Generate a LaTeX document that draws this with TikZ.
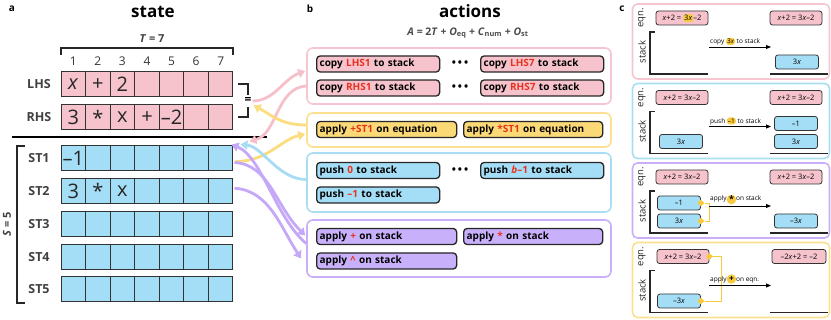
\documentclass[tikz,border=0pt]{standalone}
\usepackage{fontspec}
\setmainfont{Open Sans}
\usetikzlibrary{arrows.meta,calc,shapes.geometric}

\definecolor{cpink}{HTML}{F6C3CD}
\definecolor{cblue}{HTML}{A4DEF6}
\definecolor{cyel}{HTML}{FCD977}
\definecolor{cpurp}{HTML}{C8B1FA}
\definecolor{bpink}{HTML}{F5C6D0}
\definecolor{bblue}{HTML}{A9DDF4}
\definecolor{byel}{HTML}{FCE08F}
\definecolor{bpurp}{HTML}{C8AFF8}
\definecolor{apink}{HTML}{F6C0CA}
\definecolor{ablue}{HTML}{A8DCF4}
\definecolor{ayel}{HTML}{FCDC80}
\definecolor{apurp}{HTML}{C5A8F8}
\definecolor{cred}{HTML}{E8321E}
\definecolor{hlyel}{HTML}{F8CB3E}

\newcommand{\rd}[1]{\textcolor{cred}{#1}}
\newcommand{\hlbox}[1]{\tikz[baseline=(h.base)]\node[draw=none,fill=hlyel,rounded corners=3pt,minimum width=0pt,minimum height=0pt,inner xsep=1pt,inner ysep=1.2pt,anchor=center](h){#1};}
\newcommand{\hlcirc}[1]{\tikz[baseline=(h.base)]\node[draw=none,fill=hlyel,circle,minimum size=9.5pt,inner sep=0.3pt,anchor=center](h){#1};}

\begin{document}
\begin{tikzpicture}[x=1pt, y=-1pt,
  cell/.style={draw=black!80, line width=1pt, minimum width=24.57pt, minimum height=25pt, inner sep=0pt},
  celltxt/.style={font=\fontsize{20}{20}\selectfont, text=black!85, inner sep=0pt},
  rowlab/.style={font=\fontsize{12.5}{13}\selectfont\bfseries, text=black!75},
  colnum/.style={font=\fontsize{12}{12}\selectfont, text=black!80},
  ttl/.style={font=\fontsize{17}{17}\selectfont\bfseries},
  plab/.style={font=\fontsize{10}{10}\selectfont\bfseries},
  brk/.style={line width=1.6pt, black!85},
  grp/.style={draw=#1, line width=1.6pt, rounded corners=6pt, minimum width=304pt},
  btn/.style={draw=black!85, fill=#1, line width=1.3pt, rounded corners=3.5pt, minimum height=16pt, inner xsep=3pt, inner ysep=0pt, anchor=west, align=left, font=\fontsize{10}{11}\selectfont\bfseries},
  btnS/.style={btn=#1, text width=117pt},
  btnL/.style={btn=#1, text width=134pt},
  dotrow/.style={font=\fontsize{11}{11}\selectfont\bfseries},
  flow/.style={line width=2.8pt, draw=#1, -{Triangle[length=7pt, width=9pt]}},
  cbox/.style={draw=#1, line width=1.6pt, rounded corners=5pt, minimum width=197pt, minimum height=75pt},
  sidelab/.style={rotate=90, font=\fontsize{9.5}{10}\selectfont, text=black!85},
  stkfloor/.style={line width=1.2pt, black!85},
  eqbox/.style={draw=black!80, fill=cpink, line width=0.8pt, rounded corners=2.5pt, minimum width=52pt, minimum height=14pt, inner sep=0pt, font=\fontsize{7.5}{8}\selectfont},
  stbox/.style={draw=black!80, fill=cblue, line width=0.8pt, rounded corners=2.5pt, minimum width=43pt, minimum height=14pt, inner sep=0pt, font=\fontsize{7.5}{8}\selectfont},
  steplab/.style={anchor=south west, inner xsep=1pt, inner ysep=1.5pt, font=\fontsize{6.5}{7}\selectfont},
  stepar/.style={line width=0.9pt, -{Triangle[length=5pt, width=4pt]}},
  dmd/.style={diamond, fill=hlyel, inner sep=0pt, minimum size=7pt},
  yline/.style={draw=hlyel, line width=0.9pt},
]
\useasboundingbox (0,0) rectangle (831,320);

% ---------- a: state
\node[plab] (pa) at (12,9) {a};
\node[ttl] (tState) at (153,12) {state};
\node[font=\fontsize{11}{11}\selectfont\bfseries, text=black!75] (tLab) at (152,39) {\textit{T} = 7};
\draw[brk] (61,55) -- (61,48) -- (233,48) -- (233,55);
\foreach \i in {1,...,7}
  \node[colnum] (n\i) at ({61+24.57*(\i-0.5)},61) {\i};

\foreach \r/\yy/\c in {LHS/84.5/cpink,RHS/117.5/cpink,ST1/158.5/cblue,ST2/191.25/cblue,ST3/224/cblue,ST4/256.75/cblue,ST5/289.5/cblue}{
  \node[rowlab] (lab\r) at (39,\yy) {\r};
  \foreach \i in {1,...,7}
    \node[cell, fill=\c] (\r-\i) at ({61+24.57*(\i-0.5)},\yy) {};
}
% cell contents
\node[celltxt] (vL1) at (LHS-1) {\textit{x}};
\node[celltxt] (vL2) at (LHS-2) {+};
\node[celltxt] (vL3) at (LHS-3) {2};
\node[celltxt] (vR1) at (RHS-1) {3};
\node[celltxt] (vR2) at (RHS-2) {\raisebox{-0.3em}{*}};
\node[celltxt] (vR3) at (RHS-3) {x};
\node[celltxt] (vR4) at (RHS-4) {+};
\node[celltxt] (vR5) at (RHS-5) {\textendash2};
\node[celltxt] (vS1) at (ST1-1) {\textendash1};
\node[celltxt] (vS2a) at (ST2-1) {3};
\node[celltxt] (vS2b) at (ST2-2) {\raisebox{-0.3em}{*}};
\node[celltxt] (vS2c) at (ST2-3) {x};

% equation bracket
\draw[brk] (238,84) -- (248,84) -- (248,95);
\draw[brk] (238,117) -- (248,117) -- (248,107);
\node[font=\fontsize{12}{12}\selectfont\bfseries, inner sep=1pt] (eqs) at (248,101) {=};

\draw[line width=1.5pt] (12,137) -- (267,137);
\draw[brk] (25,146) -- (17,146) -- (17,303) -- (25,303);
\node[rotate=90, font=\fontsize{11}{11}\selectfont\bfseries, text=black!75] (sLab) at (7,224) {\textit{S} = 5};

% ---------- b: actions
\node[plab] (pb) at (310,9) {b};
\node[ttl] (tAct) at (470,11) {actions};
\node[font=\fontsize{10.5}{11}\selectfont\bfseries, text=black!70] (form) at (468,33)
  {\textit{A} = 2\textit{T} + \textit{O}\textsubscript{eq} + \textit{C}\textsubscript{num} + \textit{O}\textsubscript{st}};

\node[grp=bpink, minimum height=56pt] (gCopy) at (459,76) {};
\node[grp=byel, minimum height=34pt] (gEq) at (459,130) {};
\node[grp=bblue, minimum height=59pt] (gPush) at (459,182.5) {};
\node[grp=bpurp, minimum height=57pt] (gOp) at (459,248.5) {};

\node[btnS=cpink] (cL1) at (316,64) {copy \rd{LHS1} to stack};
\node[btnS=cpink] (cL7) at (480,64) {copy \rd{LHS7} to stack};
\node[btnS=cpink] (cR1) at (316,88) {copy \rd{RHS1} to stack};
\node[btnS=cpink] (cR7) at (480,88) {copy \rd{RHS7} to stack};
\node[dotrow] (d1) at (460,64) {\textbullet\hspace{2pt}\textbullet\hspace{2pt}\textbullet};
\node[dotrow] (d2) at (460,88) {\textbullet\hspace{2pt}\textbullet\hspace{2pt}\textbullet};

\node[btnL=cyel] (eP) at (316,129.5) {apply \rd{+ST1} on equation};
\node[btn=cyel, text width=133pt] (eM) at (463,129.5) {apply \rd{*ST1} on equation};

\node[btnS=cblue] (p0) at (316,170.5) {push \rd{0} to stack};
\node[btnS=cblue] (pb1) at (480,170.5) {push \rd{\textit{b}\textendash1} to stack};
\node[dotrow] (d3) at (460,170.5) {\textbullet\hspace{2pt}\textbullet\hspace{2pt}\textbullet};
\node[btnS=cblue] (pm1) at (316,195) {push \rd{\textendash1} to stack};

\node[btnL=cpurp] (oP) at (316,236.5) {apply \rd{+} on stack};
\node[btn=cpurp, text width=133pt] (oM) at (463,236.5) {apply \rd{*} on stack};
\node[btnL=cpurp] (oE) at (316,261) {apply \rd{\textasciicircum} on stack};

% arrows between a and b
\draw[flow=apink] (eqs.east) .. controls +(22,0) and +(-22,8) .. ($(gCopy.west)+(-1,-5)$);
\draw[flow=apink] ($(gCopy.west)+(0,10)$) .. controls +(-30,2) and +(28,-8) .. ($(ST1-7.north east)+(16,-4)$);
\draw[flow=ayel] ($(gEq.west)+(0,-5)$) .. controls +(-25,0) and +(18,10) .. ($(eqs.south east)+(1,0)$);
\draw[flow=ayel] ($(ST1-7.east)+(2,3)$) .. controls +(32,0) and +(-25,6) .. ($(gEq.west)+(-1,4)$);
\draw[flow=ablue] ($(gPush.west)+(0,-3)$) .. controls +(-28,0) and +(22,2) .. ($(ST1-7.north east)+(7,-1)$);
\draw[flow=apurp] ($(ST1-7.east)+(1,4)$) .. controls +(35,2) and +(-30,-30) .. ($(gOp.west)+(-1,-13)$);
\draw[flow=apurp] ($(ST2-7.east)+(1,-3)$) .. controls +(35,2) and +(-20,-30) .. ($(gOp.west)+(-5,10)$);
\draw[flow=apurp] ($(gOp.west)+(0,-5)$) .. controls +(-30,-25) and +(30,12) .. ($(ST1-7.north east)+(-2,-1)$);

% ---------- c: examples
\node[plab] (pc) at (622,9) {c};
\foreach \k/\t/\c in {1/4/bpink,2/83.5/bblue,3/163/bpurp,4/242.5/byel}{
  \node[cbox=\c] (fr\k) at (731,\t+37.5) {};
  \node[sidelab] (eqn\k) at (642,\t+14) {eqn.};
  \node[sidelab] (stk\k) at (642,\t+48) {stack};
  \draw[stkfloor] (655,\t+28) -- (650,\t+28) -- (650,\t+70) -- (708,\t+70);
  \draw[stkfloor] (770,\t+70) -- (828,\t+70);
  \coordinate (aS\k) at (709,\t+43);
  \coordinate (aE\k) at (771,\t+43);
}
% copy
\node[eqbox] (eqL1) at (682,18) {\textit{x}+2 = \hlbox{3\textit{x}}\textendash2};
\node[eqbox] (eqR1) at (796,18) {\textit{x}+2 = 3\textit{x}\textendash2};
\draw[stepar] (aS1) -- (aE1);
\node[steplab] (lb1) at (aS1) {copy \hlbox{3\textit{x}} to stack};
\node[stbox] (stR1) at (797,62) {3\textit{x}};
% push
\node[eqbox] (eqL2) at (682,97.5) {\textit{x}+2 = 3\textit{x}\textendash2};
\node[eqbox] (eqR2) at (796,97.5) {\textit{x}+2 = 3\textit{x}\textendash2};
\draw[stepar] (aS2) -- (aE2);
\node[steplab] (lb2) at (aS2) {push \hlbox{\textendash1} to stack};
\node[stbox] (stL2) at (681,141.5) {3\textit{x}};
\node[stbox] (stR2a) at (796,123.5) {\textendash1};
\node[stbox] (stR2b) at (796,141.5) {3\textit{x}};
% apply on stack
\node[eqbox] (eqL3) at (682,177) {\textit{x}+2 = 3\textit{x}\textendash2};
\node[eqbox] (eqR3) at (796,177) {\textit{x}+2 = 3\textit{x}\textendash2};
\node[stbox] (stL3a) at (679,203) {\textendash1};
\node[stbox] (stL3b) at (679,221) {3\textit{x}};
\node[stbox] (stR3) at (796,221) {\textendash3\textit{x}};
\node[dmd] (dm3a) at (stL3a.east) {};
\node[dmd] (dm3b) at (stL3b.east) {};
\draw[yline] (dm3a) -- (aS3 |- dm3a) -- (aS3 |- dm3b) -- (dm3b);
\draw[stepar] (aS3) -- (aE3);
\node[steplab] (lb3) at (aS3) {apply\hlcirc{\fontsize{9}{9}\selectfont\bfseries\raisebox{-0.3em}{*}}on stack};
% apply on equation
\node[eqbox] (eqL4) at (683,256.5) {\textit{x}+2 = 3\textit{x}\textendash2};
\node[eqbox, minimum width=54pt] (eqR4) at (799,256.5) {\textendash2\textit{x}+2 = \textendash2};
\node[stbox] (stL4) at (679,301) {\textendash3\textit{x}};
\node[dmd] (dm4a) at (eqL4.east) {};
\node[dmd] (dm4b) at (stL4.east) {};
\draw[yline] (dm4a) -- ($(dm4a)+(12,0)$) |- (dm4b);
\draw[stepar] (aS4) -- (aE4);
\node[steplab] (lb4) at (aS4) {apply\hlcirc{\fontsize{8.5}{8.5}\selectfont\bfseries +}on eqn.};
\end{tikzpicture}
\end{document}
